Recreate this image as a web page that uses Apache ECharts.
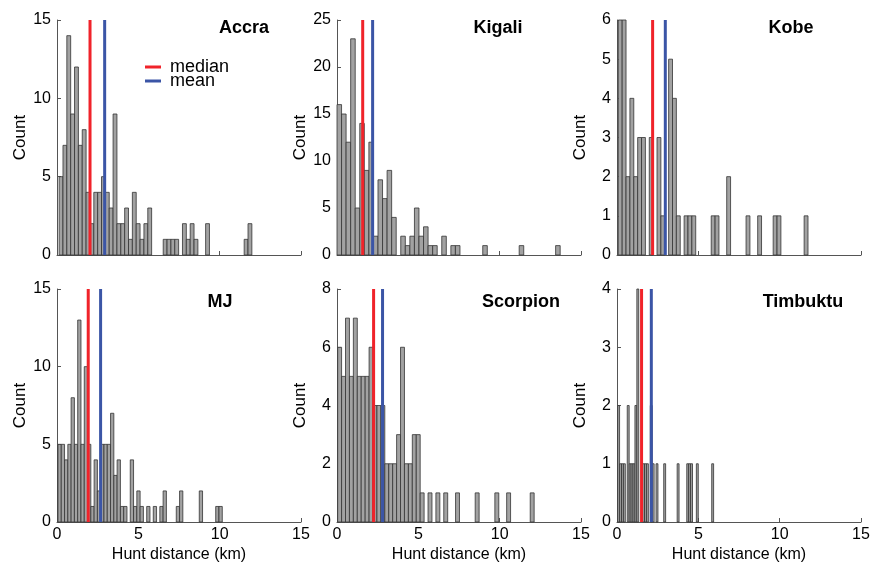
<!DOCTYPE html>
<html><head><meta charset="utf-8">
<script src="https://cdn.jsdelivr.net/npm/echarts@6/dist/echarts.min.js"></script>
<style>html,body{margin:0;padding:0;background:#fff}#c{width:877px;height:575px}</style>
</head><body><div id="c"></div>
<script>
const cities = ['Accra', 'Kigali', 'Kobe', 'MJ', 'Scorpion', 'Timbuktu'];
// histogram bin layout (km)
const binStart = [0.13, 0.0, 0.08, 0.06, 0.04, 0.04];
const binWidth = [0.237, 0.28, 0.238, 0.202, 0.2416, 0.118];
// counts per bin
const accraCounts = [5,7,14,9,12,7,8,4,2,4,4,5,4,3,9,2,2,3,1,4,2,1,2,3,0,0,0,1,1,1,1,0,2,1,2,1,0,0,2,0,0,0,0,0,0,0,0,0,1,2];
const kigaliCounts = [16,15,12,23,5,14,9,12,2,8,6,9,4,0,2,1,2,5,2,3,1,1,0,2,0,1,1,0,0,0,0,0,1,0,0,0,0,0,0,0,1,0,0,0,0,0,0,0,1];
const kobeCounts = [6,6,2,4,2,3,3,0,3,0,3,1,0,5,4,1,0,1,1,1,0,0,0,0,1,1,0,0,2,0,0,0,0,1,0,0,1,0,0,0,1,1,0,0,0,0,0,0,1];
const mjCounts = [5,5,4,5,8,5,13,5,10,5,1,4,2,5,5,5,7,3,4,1,1,0,4,1,2,1,0,1,0,1,0,1,2,0,0,0,1,2,0,0,0,0,0,2,0,0,0,0,1,1];
const scorpionCounts = [6,5,7,5,7,5,5,5,6,4,4,4,2,2,2,3,6,2,2,3,3,1,0,1,0,1,0,1,0,0,1,0,0,0,0,1,0,0,0,0,1,0,0,1,0,0,0,0,0,1];
const timbuktuCounts = [2,1,1,1,0,2,1,1,1,2,4,0,0,1,1,1,0,2,1,0,1,0,0,0,1,0,0,0,0,0,0,1,0,0,0,0,1,1,1,0,0,1,0,0,0,0,0,0,0,1];
const allCounts = [accraCounts, kigaliCounts, kobeCounts, mjCounts, scorpionCounts, timbuktuCounts];
const medians = [2.03, 1.58, 2.19, 1.92, 2.25, 1.51];
const means = [2.93, 2.19, 2.97, 2.68, 2.80, 2.11];
const yMax = [15, 25, 6, 15, 8, 4];
const yStep = [5, 5, 1, 5, 2, 1];
const xMax = 15, xStep = 5;

const FONT = '"Liberation Sans", Arial, Helvetica, sans-serif';
const colLeft = [57, 337, 617];
const rowTop = [20, 289];
const rowH = [235, 233];
const plotW = 244;
const titlePos = [[244, 28], [498, 28], [791, 28], [220, 302], [521, 302], [803, 302]];
const axisColor = '#555';

const grids = [], xAxes = [], yAxes = [], series = [], graphics = [];
cities.forEach((name, k) => {
  const r = Math.floor(k / 3), c = k % 3;
  grids.push({left: colLeft[c], top: rowTop[r], width: plotW, height: rowH[r], containLabel: false, outerBoundsMode: 'none'});
  xAxes.push({
    type: 'value', gridIndex: k, min: 0, max: xMax, interval: xStep,
    axisLine: {show: true, lineStyle: {color: axisColor, width: 1}},
    axisTick: {show: true, inside: true, length: 4, lineStyle: {color: axisColor}},
    splitLine: {show: false},
    axisLabel: {show: r === 1, color: '#000', fontSize: 16, fontFamily: FONT, margin: 5},
    name: r === 1 ? 'Hunt distance (km)' : '', nameLocation: 'middle', nameGap: 25,
    nameTextStyle: {color: '#000', fontSize: 16, fontFamily: FONT}
  });
  yAxes.push({
    type: 'value', gridIndex: k, min: 0, max: yMax[k], interval: yStep[k],
    axisLine: {show: true, lineStyle: {color: axisColor, width: 1}},
    axisTick: {show: true, inside: true, length: 4, lineStyle: {color: axisColor}},
    splitLine: {show: false},
    axisLabel: {color: '#000', fontSize: 16, fontFamily: FONT, margin: 6},
    name: 'Count', nameLocation: 'middle', nameGap: 28, nameRotate: 90,
    nameTextStyle: {color: '#000', fontSize: 17, fontFamily: FONT}
  });
  const counts = allCounts[k];
  const data = [];
  counts.forEach((v, i) => {
    if (v > 0) data.push([binStart[k] + i * binWidth[k], binStart[k] + (i + 1) * binWidth[k], v]);
  });
  series.push({
    type: 'custom', xAxisIndex: k, yAxisIndex: k, data: data, z: 2,
    encode: {x: [0, 1], y: 2},
    renderItem: function (params, api) {
      const p0 = api.coord([api.value(0), api.value(2)]);
      const p1 = api.coord([api.value(1), 0]);
      return {type: 'rect', shape: {x: p0[0], y: p0[1], width: p1[0] - p0[0], height: p1[1] - p0[1]},
        style: {fill: '#a2a2a2', stroke: '#333', lineWidth: 0.8}};
    }
  });
  series.push({
    name: 'median', type: 'line', xAxisIndex: k, yAxisIndex: k, z: 5, symbol: 'none',
    data: [[medians[k], 0], [medians[k], yMax[k]]],
    lineStyle: {color: '#f0232a', width: 3}, itemStyle: {color: '#f0232a'}
  });
  series.push({
    name: 'mean', type: 'line', xAxisIndex: k, yAxisIndex: k, z: 5, symbol: 'none',
    data: [[means[k], 0], [means[k], yMax[k]]],
    lineStyle: {color: '#3b55a6', width: 3}, itemStyle: {color: '#3b55a6'}
  });
  graphics.push({type: 'text', x: titlePos[k][0], y: titlePos[k][1], z: 10,
    style: {text: name, font: 'bold 18px ' + FONT, fill: '#000', textAlign: 'center', textVerticalAlign: 'middle'}});
});

const chart = echarts.init(document.getElementById('c'), null, {renderer: 'canvas'});
chart.setOption({
  animation: false,
  backgroundColor: '#fff',
  grid: grids, xAxis: xAxes, yAxis: yAxes, series: series,
  graphic: graphics,
  legend: {
    data: ['median', 'mean'], orient: 'vertical', left: 145, top: 58,
    icon: 'rect', itemWidth: 16, itemHeight: 3, itemGap: -4,
    textStyle: {color: '#000', fontSize: 18, fontFamily: FONT, lineHeight: 14, padding: [0, 0, 0, 4]},
    padding: 0
  }
});
</script></body></html>
